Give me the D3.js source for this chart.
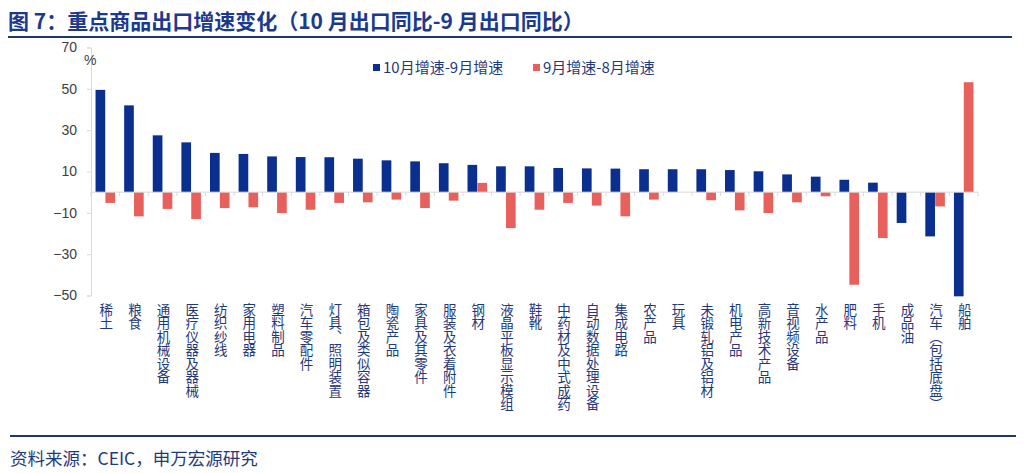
<!DOCTYPE html>
<html><head><meta charset="utf-8">
<script src="https://cdn.jsdelivr.net/npm/d3@7"></script>
<style>
body{margin:0;background:#fff;}
svg{display:block;font-family:"Noto Sans CJK SC","Noto Sans",sans-serif;}
</style></head><body>
<svg id="c" width="1024" height="473"></svg>
<script>
const categories = ["稀土","粮食","通用机械设备","医疗仪器及器械","纺织纱线","家用电器","塑料制品","汽车零配件","灯具、照明装置","箱包及类似容器","陶瓷产品","家具及其零件","服装及衣着附件","钢材","液晶平板显示模组","鞋靴","中药材及中式成药","自动数据处理设备","集成电路","农产品","玩具","未锻轧铝及铝材","机电产品","高新技术产品","音视频设备","水产品","肥料","手机","成品油","汽车（包括底盘）","船舶"];
const octMinusSep = [49.5,42,27.5,24.1,19,18.5,17.3,17,16.9,16.2,15.4,14.9,14,13.2,12.5,12.5,11.7,11.5,11.4,11.1,11.1,11.1,10.7,10.1,8.6,7.5,6.0,4.6,-14.9,-21.4,-50.4];
const sepMinusAug = [-5.2,-11.7,-8.1,-13,-7.7,-7.3,-10.1,-8.5,-5.2,-4.9,-3.6,-7.7,-4.1,4.5,-17.4,-8.5,-5.2,-6.5,-11.7,-3.6,0,-3.9,-8.8,-10.1,-4.9,-2.0,-44.8,-22.2,0,-6.9,53.2];
const seriesNames = ["10月增速-9月增速","9月增速-8月增速"];
const yTicks = [70,50,30,10,-10,-30,-50];
const title = "图 7：重点商品出口增速变化（10 月出口同比-9 月出口同比）";
const source = "资料来源：CEIC，申万宏源研究";

const colors = ["#0B2F8E","#E8605C"];
const svg = d3.select("#c");
const mLeft = 91, mRight = 978, mTop = 47.5, mBottom = 295.5;

const x = d3.scaleBand().domain(categories).range([mLeft,mRight]).padding(0);
const sub = d3.scaleBand().domain([0,1]).range([0,x.bandwidth()]).paddingInner(0.02).paddingOuter(0.46);
const y = d3.scaleLinear().domain([-50,70]).range([mBottom,mTop]);

// title
svg.append("text").attr("x",8).attr("y",29).attr("font-size",21).attr("font-weight","bold")
  .attr("fill","#1B3A8C").text(title);
svg.append("line").attr("x1",8).attr("x2",1012).attr("y1",37).attr("y2",37)
  .attr("stroke","#1F3864").attr("stroke-width",2);

// y axis
const yAxis = d3.axisLeft(y).tickValues(yTicks).tickSize(4).tickFormat(d3.format("d"));
const ya = svg.append("g").attr("transform",`translate(${mLeft},0)`).call(yAxis);
ya.select(".domain").attr("stroke","#D9D9D9");
ya.selectAll(".tick line").attr("stroke","#D9D9D9");
ya.selectAll(".tick text").attr("font-size",14).attr("fill","#404040").attr("x",-14)
  .attr("font-family","Arial,'Liberation Sans',sans-serif");
svg.append("text").attr("x",84).attr("y",65).attr("font-size",14).attr("fill","#404040")
  .attr("font-family","Arial,'Liberation Sans',sans-serif").text("%");

// bars
const data = [octMinusSep, sepMinusAug];
data.forEach((vals,si)=>{
  svg.append("g").selectAll("rect").data(categories).join("rect")
    .attr("x",d=>x(d)+sub(si))
    .attr("width",sub.bandwidth())
    .attr("y",(d,i)=>y(Math.max(0,vals[i])))
    .attr("height",(d,i)=>Math.abs(y(vals[i])-y(0)))
    .attr("fill",colors[si]);
});

// zero axis with ticks at band boundaries
const xa = svg.append("g").attr("transform",`translate(0,${y(0)})`);
xa.append("line").attr("x1",mLeft).attr("x2",mRight).attr("stroke","#D9D9D9");
xa.selectAll("line.t").data(categories.concat(["__end"])).join("line").attr("class","t")
  .attr("x1",(d,i)=>mLeft+i*x.bandwidth()).attr("x2",(d,i)=>mLeft+i*x.bandwidth())
  .attr("y1",0).attr("y2",4).attr("stroke","#D9D9D9");

// x labels vertical
svg.append("g").selectAll("text").data(categories).join("text")
  .attr("x",d=>x(d)+x.bandwidth()/2+1)
  .attr("y",303)
  .attr("font-size",13.5)
  .attr("fill","#1F3A7A")
  .style("writing-mode","vertical-rl")
  .text(d=>d);

// legend
const lg = [{x:373,name:seriesNames[0],c:colors[0]},{x:533,name:seriesNames[1],c:colors[1]}];
lg.forEach(l=>{
  svg.append("rect").attr("x",l.x).attr("y",64).attr("width",7).attr("height",7).attr("fill",l.c);
  svg.append("text").attr("x",l.x+10).attr("y",73).attr("font-size",15).attr("fill","#1F3A7A").text(l.name);
});

// footer
svg.append("line").attr("x1",10).attr("x2",1016).attr("y1",436).attr("y2",436)
  .attr("stroke","#1F3864").attr("stroke-width",2);
svg.append("text").attr("x",10).attr("y",465).attr("font-size",17.5).attr("fill","#1F3A7A").text(source);
</script></body></html>
